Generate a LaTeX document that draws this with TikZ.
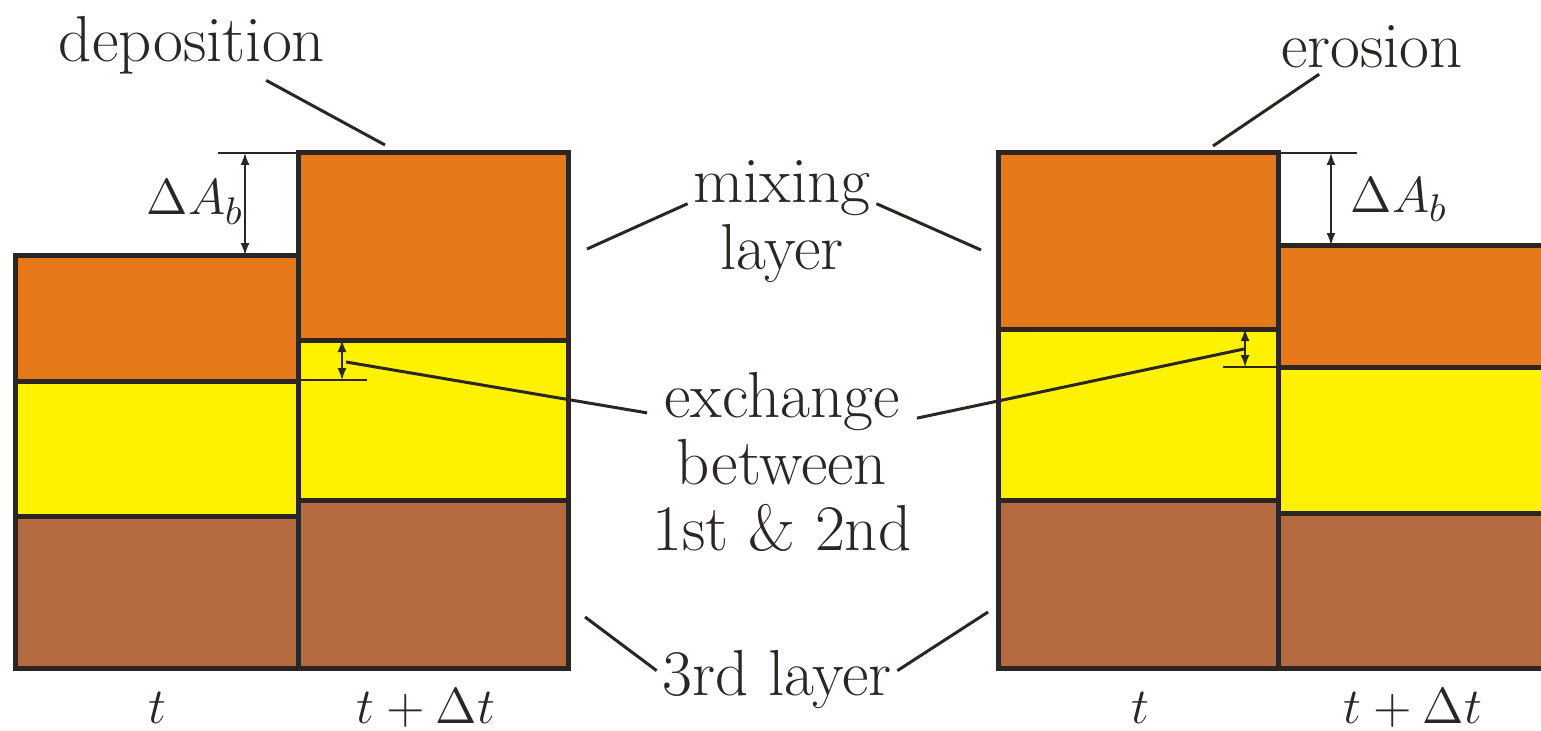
\documentclass[tikz,border=0pt]{standalone}
\usepackage{xcolor}
\usepackage{tikz}
\usetikzlibrary{arrows.meta}
\definecolor{mixcol}{RGB}{229,120,25}
\definecolor{exccol}{RGB}{255,242,0}
\definecolor{basecol}{RGB}{181,106,64}
\definecolor{inkcol}{RGB}{43,38,36}
\begin{document}
\begin{tikzpicture}[x=0.1mm,y=-0.1mm,
  layerline/.style={line width=0.5mm,draw=inkcol},
  leader/.style={line width=0.3mm,inkcol},
  thinline/.style={line width=0.15mm,inkcol},
  dimarrow/.style={line width=0.15mm,inkcol,{Latex[length=1.2mm,width=0.9mm]}-{Latex[length=1.2mm,width=0.9mm]}},
  biglabel/.style={text=inkcol,inner sep=0.5mm,align=center,font=\fontsize{18.5pt}{19pt}\selectfont},
  smalllabel/.style={text=inkcol,inner sep=0pt,font=\fontsize{15pt}{15pt}\selectfont}]
 	\useasboundingbox (0,0) rectangle (1541,730);
 	% columns: left, right, top, 1st/2nd, 2nd/3rd
 	\foreach \xa/\xb/\ya/\yb/\yc in {15/298/255/381/516, 298/568/153/340/500, 998/1278/153/329/500, 1278/1545/245/367/513}{
 		\fill[mixcol] (\xa,\ya) rectangle (\xb,\yb);
 		\fill[exccol] (\xa,\yb) rectangle (\xb,\yc);
 		\fill[basecol] (\xa,\yc) rectangle (\xb,668);
 		\draw[layerline] (\xa,\ya) rectangle (\xb,668);
 		\draw[layerline] (\xa,\yb) -- (\xb,\yb) (\xa,\yc) -- (\xb,\yc);
 	}
 	% dimension lines
 	\draw[thinline] (218,153) -- (298,153);
 	\draw[dimarrow] (245,153) -- (245,255);
 	\draw[thinline] (298,380) -- (367,380);
 	\draw[dimarrow] (342,340) -- (342,380);
 	\draw[thinline] (1278,153) -- (1357,153);
 	\draw[dimarrow] (1331,153) -- (1331,245);
 	\draw[thinline] (1223,367) -- (1278,367);
 	\draw[dimarrow] (1245,329) -- (1245,367);
 	\node[smalllabel,anchor=base west] (dAL) at (146,215) {$\Delta A_b$};
 	\node[smalllabel,anchor=base west] (dAR) at (1350,212) {$\Delta A_b$};
 	% labels
 	\node[biglabel,anchor=base] (deposition) at (192,62) {deposition};
 	\node[biglabel,anchor=base] (erosion) at (1372,68) {erosion};
 	\node[biglabel] (mixing) at (782,222) {mixing\\layer};
 	\node[biglabel] (exchange) at (782,462) {exchange\\between\\1st \& 2nd};
 	\node[biglabel,anchor=base] (third) at (777,695) {3rd layer};
 	\node[smalllabel,anchor=base] (tL) at (157,723) {$t$};
 	\node[smalllabel,anchor=base] (tdtL) at (426,723) {$t+\Delta t$};
 	\node[smalllabel,anchor=base] (tR) at (1140,723) {$t$};
 	\node[smalllabel,anchor=base] (tdtR) at (1413,723) {$t+\Delta t$};
 	% leader ends
 	\coordinate (depEnd) at (385,145);
 	\coordinate (eroEnd) at (1213,146);
 	\coordinate (mixL) at (587,249);
 	\coordinate (mixR) at (981,250);
 	\coordinate (excL) at (346,362);
 	\coordinate (excR) at (1244,349);
 	\coordinate (thirdL) at (585,617);
 	\coordinate (thirdR) at (988,612);
 	\draw[leader] (deposition.-25) -- (depEnd);
 	\draw[leader] (erosion.207) -- (eroEnd);
 	\draw[leader] (mixing.169) -- (mixL);
 	\draw[leader] (mixing.11) -- (mixR);
 	\draw[leader] (exchange.160) -- (excL);
 	\draw[leader] (exchange.18) -- (excR);
 	\draw[leader] (third.176) -- (thirdL);
 	\draw[leader] (third.4) -- (thirdR);
\end{tikzpicture}
\end{document}
